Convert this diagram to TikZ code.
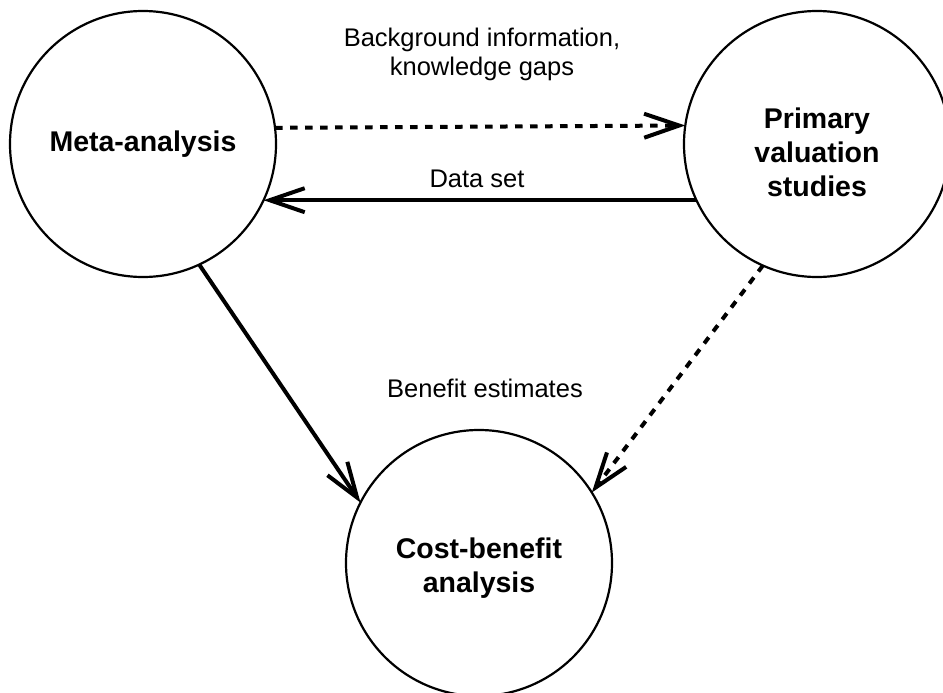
\documentclass[tikz,border=0pt]{standalone}
\usepackage{fontspec}
\setmainfont{Liberation Sans}
\usetikzlibrary{arrows.meta}
\begin{document}
\begin{tikzpicture}[x=1pt,y=-1pt,
  circ/.style={circle,draw,line width=2.2pt,minimum size=266pt,inner sep=0pt,outer sep=0pt,
    align=center,font=\bfseries\fontsize{28.5}{34}\selectfont},
  lbl/.style={align=center,font=\fontsize{25.5}{29}\selectfont,inner sep=0pt},
  conn/.style={line width=4pt,-{Straight Barb[length=35pt,width=24pt,line width=4pt]}},
  dashconn/.style={conn,dash pattern=on 7.5pt off 7.5pt}]
\useasboundingbox (0,0) rectangle (943,693);
\begin{scope}
\clip (0,0) rectangle (943,693);
\node[circ] (A) at (143,144) {Meta-analysis};
\node[circ] (B) at (817,144) {\rule{0pt}{37pt}Primary\\valuation\\studies};
\node[circ] (C) at (479,563) {\rule{0pt}{31pt}Cost-benefit\\analysis};
\end{scope}
\draw[dashconn] (A.7.8) -- (B.172.2);
\draw[conn] (B.205) -- (A.-25);
\draw[conn] (A.-65.2) -- (C.153.6);
\draw[dashconn] (B.246.4) -- (C.32.6);
\node[lbl,anchor=base] (l1) at (482,76) {Background information,\\knowledge gaps};
\node[lbl,anchor=base] (l2) at (477,187) {Data set};
\node[lbl,anchor=base] (l3) at (485,397) {Benefit estimates};
\end{tikzpicture}
\end{document}
